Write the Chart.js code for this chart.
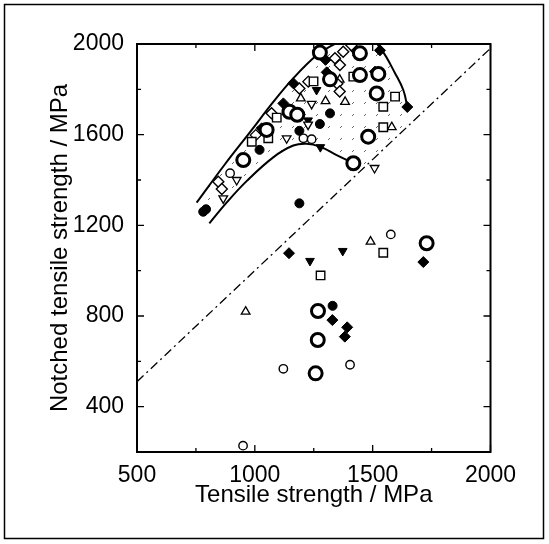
<!DOCTYPE html>
<html>
<head>
<meta charset="utf-8">
<script src="https://cdn.jsdelivr.net/npm/chart.js@4"></script>
<style>
  body { margin: 0; background: #fff; }
  canvas { display: block; }
</style>
</head>
<body>
<canvas id="notchChart" width="549" height="544"></canvas>
<script>
// marker data, [tensile, notched tensile] in MPa
const filledCircle = [[781,1260],[793,1271],[1020,1533],[1189,1617],[1276,1647],[1319,1694],[1189,1297],[1330,845]];
const openCircle = [[895,1430],[1206,1584],[1241,1580],[950,228],[1121,567],[1404,585],[1577,1160]];
const boldCircle = [[951,1488],[1050,1621],[1147,1701],[1180,1688],[1276,1962],[1319,1844],[1446,1863],[1446,1959],[1524,1868],[1517,1782],[1481,1591],[1418,1474],[1729,1121],[1268,822],[1267,694],[1258,547]];
const openSquare = [[987,1569],[1057,1584],[1093,1675],[1249,1835],[1418,1856],[1545,1723],[1545,1633],[1595,1768],[1279,979],[1545,1079]];
const openDiamond = [[845,1392],[860,1360],[1004,1598],[1071,1694],[1189,1804],[1227,1834],[1340,1937],[1375,1966],[1361,1907],[1350,1825],[1360,1790],[1410,1995]];
const filledDiamond = [[1029,1628],[1121,1738],[1163,1827],[1300,1930],[1305,1875],[1425,1975],[1510,1878],[1531,1972],[1647,1722],[1145,1077],[1715,1038],[1329,782],[1392,750],[1382,709]];
const openTriUp = [[1195,1760],[1300,1748],[1383,1745],[1360,1843],[1581,1633],[1491,1128],[961,819]];
const openTriDown = [[866,1319],[923,1400],[1135,1584],[1241,1736],[1226,1644],[1508,1453]];
const filledTriDown = [[1262,1797],[1278,1545],[1226,1663],[1234,1043],[1373,1087]];

// boundary curves and the 1:1-ish reference line
const upperCurve = [[753,1300],[870,1465],[987,1621],[1075,1740],[1160,1845],[1262,1950],[1330,1995],[1400,2030],[1480,2035],[1538,1974],[1595,1871],[1630,1797],[1647,1723]];
const lowerCurve = [[807,1209],[880,1300],[965,1395],[1078,1500],[1163,1552],[1220,1560],[1276,1547],[1347,1510],[1418,1474]];
const diagLine = [[500,510],[2000,1981]];
const regionEdge = [[1660,1648],[1440,1432]];

const xTicks = [500, 1000, 1500, 2000];
const yTicks = [400, 800, 1200, 1600, 2000];

function pts(arr){
    return arr.map(p => ({x: p[0], y: p[1]}));
}

function dots(){
    let c = document.createElement('canvas');
    c.width = 12; c.height = 12;
    let g = c.getContext('2d');
    g.fillStyle = '#666';
    g.fillRect(4, 7, 1, 1);
    g.fillRect(5, 6, 1, 1);
    return g.createPattern(c, 'repeat');
}

function marker(arr, style, filled, radius, bw, rot){
    return {
        data: pts(arr),
        pointStyle: style,
        pointRadius: radius,
        pointHoverRadius: radius,
        pointBorderWidth: bw,
        pointRotation: rot || 0,
        pointBackgroundColor: filled ? '#000' : '#fff',
        pointBorderColor: '#000',
        showLine: false
    };
}

function curve(arr, extra){
    return Object.assign({
        data: pts(arr),
        showLine: true,
        pointRadius: 0,
        pointHoverRadius: 0,
        borderColor: '#000',
        borderWidth: 2,
        tension: 0.4,
        fill: false
    }, extra || {});
}

const font = 'Liberation Sans, Arial, Helvetica, sans-serif';

const frame = {
    id: 'frame',
    afterDatasetsDraw(chart){
        const ctx = chart.ctx, a = chart.chartArea;
        const xs = chart.scales.x, ys = chart.scales.y;
        ctx.save();
        ctx.strokeStyle = '#000';
        ctx.lineWidth = 2;
        ctx.strokeRect(a.left, a.top, a.right - a.left, a.bottom - a.top);
        ctx.lineWidth = 1.3;
        ctx.beginPath();
        xs.ticks.forEach(t => {
            let p = xs.getPixelForValue(t.value);
            let len = xTicks.includes(t.value) ? 7 : 4;
            ctx.moveTo(p, a.bottom); ctx.lineTo(p, a.bottom - len);
            ctx.moveTo(p, a.top); ctx.lineTo(p, a.top + len);
        });
        ys.ticks.forEach(t => {
            let p = ys.getPixelForValue(t.value);
            let len = yTicks.includes(t.value) ? 7 : 4;
            ctx.moveTo(a.left, p); ctx.lineTo(a.left + len, p);
            ctx.moveTo(a.right, p); ctx.lineTo(a.right - len, p);
        });
        ctx.stroke();
        ctx.lineWidth = 1.5;
        ctx.strokeRect(4.5, 4.5, 539, 534);
        ctx.restore();
    }
};

new Chart(document.getElementById('notchChart'), {
    type: 'scatter',
    data: {
        datasets: [
            marker(boldCircle, 'circle', false, 6.5, 3),
            marker(filledCircle, 'circle', true, 4.5, 1),
            marker(openCircle, 'circle', false, 4.2, 1.4),
            marker(openSquare, 'rect', false, 6, 1.4),
            marker(openDiamond, 'rectRot', false, 5.5, 1.4),
            marker(filledDiamond, 'rectRot', true, 5.5, 1),
            marker(openTriUp, 'triangle', false, 5, 1.3),
            marker(openTriDown, 'triangle', false, 5, 1.3, 180),
            marker(filledTriDown, 'triangle', true, 5, 1, 180),
            curve(upperCurve),
            curve(lowerCurve),
            curve(diagLine, {borderWidth: 1.3, tension: 0, borderDash: [9, 4, 2, 4]}),
            curve(upperCurve.concat(regionEdge, lowerCurve.slice().reverse()),
                {borderWidth: 0, tension: 0, fill: 'shape', backgroundColor: dots()})
        ]
    },
    options: {
        responsive: false,
        animation: false,
        events: [],
        layout: { padding: { top: 44, right: 58.5, left: 0, bottom: 0 } },
        plugins: { legend: { display: false }, tooltip: { enabled: false } },
        scales: {
            x: {
                type: 'linear',
                min: 500, max: 2000,
                afterFit(s){ s.height = 92; },
                grid: { display: false },
                border: { display: false },
                ticks: {
                    stepSize: 250, autoSkip: false, maxRotation: 0, padding: 2,
                    color: '#000', font: { family: font, size: 23 },
                    callback: v => xTicks.includes(v) ? v : ''
                },
                title: {
                    display: true, text: 'Tensile strength / MPa', color: '#000',
                    font: { family: font, size: 24 }, padding: { top: 0, bottom: 34 }
                }
            },
            y: {
                type: 'linear',
                min: 200, max: 2000,
                afterFit(s){ s.width = 137; },
                grid: { display: false },
                border: { display: false },
                ticks: {
                    stepSize: 200, autoSkip: false, padding: 5,
                    color: '#000', font: { family: font, size: 23 },
                    callback: v => yTicks.includes(v) ? v : ''
                },
                title: {
                    display: true, text: 'Notched tensile strength / MPa', color: '#000',
                    font: { family: font, size: 24 }, padding: { top: 46, bottom: 0 }
                }
            }
        }
    },
    plugins: [frame]
});
</script>
</body>
</html>
